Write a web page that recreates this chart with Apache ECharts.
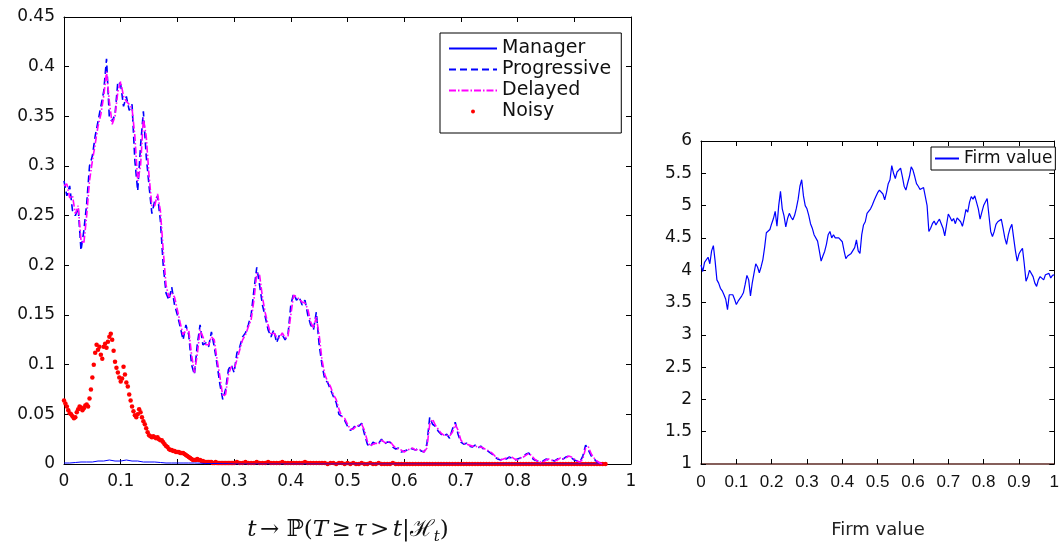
<!DOCTYPE html>
<html>
<head>
<meta charset="utf-8">
<script src="https://cdn.jsdelivr.net/npm/echarts@6/dist/echarts.min.js"></script>
<style>
  html, body { margin: 0; padding: 0; background: #fff; }
  #chart { width: 1062px; height: 551px; }
</style>
</head>
<body>
<div id="chart"></div>
<script>
// sampling steps along t
const T_STEP = 0.005;
const MANAGER_STEP = 0.01;
const NOISY_HEAD_STEP = 0.0025;
const NOISY_TAIL_START = 0.305;

// left panel: probabilities
const manager = [
  0.001,0.001,0.0015,0.002,0.002,0.002,0.003,0.003,0.004,0.003,
  0.003,0.004,0.003,0.003,0.002,0.002,0.002,0.0015,0.001,0.001,
  0.001,0.001,0.001,0.001,0.0008,0.0005,0.0005,0.0005,0.0003,0.0003,
  0,0,0,0,0,0,0,0,0,0,
  0,0,0,0,0,0,0,0,0,0,
  0,0,0,0,0,0,0,0,0,0,
  0,0,0,0,0,0,0,0,0,0,
  0,0,0,0,0,0,0,0,0,0,
  0,0,0,0,0,0,0,0,0,0,
  0,0,0,0,0,0
];

const progressive = [
  0.285,0.27,0.28,0.255,0.25,0.258,0.215,0.235,0.262,0.3,
  0.31,0.33,0.345,0.36,0.375,0.408,0.348,0.345,0.352,0.385,
  0.382,0.36,0.37,0.356,0.362,0.305,0.275,0.32,0.355,0.31,
  0.28,0.252,0.265,0.27,0.245,0.2,0.172,0.165,0.178,0.16,
  0.15,0.138,0.125,0.14,0.13,0.1,0.09,0.12,0.14,0.12,
  0.122,0.118,0.133,0.118,0.1,0.08,0.065,0.075,0.095,0.1,
  0.092,0.112,0.118,0.128,0.132,0.14,0.15,0.175,0.198,0.18,
  0.16,0.148,0.135,0.128,0.135,0.122,0.13,0.13,0.125,0.13,
  0.16,0.172,0.165,0.168,0.16,0.165,0.15,0.14,0.135,0.153,
  0.12,0.1,0.085,0.082,0.075,0.068,0.062,0.05,0.048,0.044,
  0.038,0.034,0.036,0.04,0.038,0.041,0.03,0.02,0.017,0.022,
  0.02,0.021,0.025,0.02,0.022,0.022,0.017,0.015,0.016,0.012,
  0.013,0.014,0.016,0.015,0.014,0.016,0.013,0.012,0.02,0.047,
  0.04,0.038,0.033,0.03,0.028,0.03,0.026,0.035,0.042,0.03,
  0.022,0.02,0.021,0.018,0.017,0.019,0.016,0.018,0.015,0.014,
  0.012,0.01,0.007,0.005,0.004,0.006,0.005,0.007,0.006,0.004,
  0.005,0.006,0.008,0.01,0.011,0.006,0.004,0.003,0.002,0.003,
  0.005,0.004,0.004,0.003,0.005,0.006,0.005,0.007,0.008,0.006,
  0.004,0.003,0.002,0.008,0.019,0.014,0.008,0.005,0.002,0.001,
  0.0
];

const delayed = [
  0.28,0.282,0.268,0.27,0.252,0.26,0.225,0.222,0.25,0.285,
  0.305,0.322,0.34,0.352,0.37,0.395,0.365,0.342,0.35,0.375,
  0.385,0.37,0.365,0.362,0.358,0.33,0.285,0.3,0.348,0.33,
  0.29,0.26,0.26,0.272,0.255,0.215,0.18,0.168,0.172,0.168,
  0.155,0.142,0.13,0.135,0.135,0.11,0.092,0.11,0.135,0.128,
  0.12,0.12,0.128,0.125,0.105,0.088,0.068,0.07,0.09,0.098,
  0.095,0.105,0.115,0.125,0.13,0.138,0.145,0.165,0.192,0.19,
  0.168,0.152,0.14,0.13,0.132,0.128,0.127,0.132,0.127,0.128,
  0.15,0.17,0.168,0.166,0.163,0.162,0.156,0.143,0.137,0.148,
  0.13,0.105,0.09,0.083,0.078,0.07,0.065,0.055,0.048,0.046,
  0.04,0.035,0.035,0.038,0.039,0.04,0.034,0.023,0.018,0.02,
  0.021,0.02,0.024,0.022,0.021,0.023,0.019,0.016,0.015,0.014,
  0.012,0.014,0.015,0.016,0.014,0.015,0.014,0.012,0.016,0.04,
  0.045,0.039,0.035,0.031,0.029,0.029,0.028,0.032,0.04,0.034,
  0.024,0.021,0.02,0.019,0.018,0.018,0.017,0.017,0.016,0.014,
  0.013,0.011,0.008,0.006,0.004,0.005,0.006,0.006,0.007,0.005,
  0.004,0.006,0.007,0.009,0.011,0.008,0.005,0.003,0.002,0.002,
  0.004,0.005,0.004,0.003,0.004,0.006,0.005,0.006,0.008,0.007,
  0.005,0.003,0.002,0.005,0.016,0.017,0.01,0.006,0.003,0.001,
  0.0
];

// noisy estimate: dense samples up to t = 0.3, then a flat tail to 0.95
const noisyHead = [
  0.064,0.061,0.058,0.054,0.051,0.05,0.048,0.046,0.047,0.052,
  0.055,0.058,0.057,0.054,0.056,0.059,0.06,0.058,0.066,0.075,
  0.087,0.1,0.112,0.12,0.115,0.118,0.11,0.106,0.118,0.121,
  0.117,0.123,0.128,0.131,0.125,0.114,0.103,0.097,0.092,0.087,
  0.083,0.086,0.098,0.09,0.082,0.078,0.07,0.064,0.058,0.053,
  0.049,0.047,0.05,0.055,0.052,0.047,0.043,0.04,0.036,0.032,
  0.029,0.028,0.027,0.028,0.027,0.026,0.027,0.025,0.024,0.024,
  0.022,0.02,0.018,0.017,0.015,0.014,0.014,0.013,0.013,0.012,
  0.012,0.012,0.011,0.011,0.011,0.01,0.009,0.008,0.007,0.006,
  0.005,0.004,0.004,0.004,0.005,0.004,0.004,0.003,0.003,0.002,
  0.002,0.002,0.002,0.002,0.002,0.001,0.001,0.002,0.001,0.001,
  0.001,0.001,0.001,0.001,0.001,0.001,0.001,0.001,0.001,0.001,
  0.001
];

const noisyTail = [
  0.002,0.001,0.001,0.002,0.001,0.001,0.001,0.002,0.001,
  0.001,0.001,0.002,0.001,0.001,0.001,0.001,0.002,0.001,0.001,
  0.001,0.001,0.001,0.001,0.001,0.002,0.001,0.001,0.001,0.001,
  0.001,0.001,0.001,0,0.001,0.001,0,0.001,0.001,0,
  0.001,0,0.001,0,0,0.001,0,0,0.001,0,
  0,0.001,0,0,0,0,0.001,0,0,0,
  0,0,0,0,0,0,0,0,0,0,
  0,0,0,0,0,0,0,0,0,0,
  0,0,0,0,0,0,0,0,0,0,
  0,0,0,0,0,0,0,0,0,0,
  0,0,0,0,0,0,0,0,0,0,
  0,0,0,0,0,0,0,0,0,0,
  0,0,0,0,0,0,0,0,0,0,
  0,0
];

// right panel: firm value path
const firmValue = [
  4.08,3.98,4.12,4.13,4.2,4.1,4.3,4.38,4.14,3.85,
  3.8,3.72,3.68,3.62,3.55,3.39,3.62,3.65,3.62,3.55,
  3.47,3.52,3.55,3.6,3.65,3.78,3.92,3.85,3.6,3.8,
  3.95,4.1,4.05,3.96,4.05,4.16,4.35,4.58,4.55,4.63,
  4.72,4.8,4.91,4.68,5.0,5.22,4.95,4.84,4.67,4.8,
  4.88,4.82,4.78,4.85,4.96,5.1,5.3,5.4,5.15,5.0,
  4.95,4.85,4.72,4.65,4.55,4.52,4.45,4.3,4.14,4.22,
  4.29,4.4,4.55,4.6,4.5,4.55,4.5,4.52,4.5,4.52,
  4.44,4.3,4.18,4.22,4.2,4.26,4.29,4.35,4.47,4.3,
  4.26,4.55,4.7,4.75,4.88,4.85,4.95,5.01,5.08,5.14,
  5.2,5.24,5.22,5.18,5.09,5.2,5.34,5.4,5.62,5.5,
  5.42,5.52,5.5,5.58,5.45,5.3,5.24,5.35,5.45,5.6,
  5.55,5.45,5.34,5.3,5.25,5.22,5.28,5.29,5.0,4.6,
  4.65,4.72,4.76,4.7,4.75,4.79,4.72,4.65,4.53,4.7,
  4.87,4.82,4.76,4.8,4.72,4.81,4.78,4.75,4.68,4.8,
  4.94,4.9,5.05,5.14,5.1,5.15,5.16,4.95,4.79,4.9,
  5.0,5.01,5.11,4.85,4.6,4.52,4.6,4.71,4.75,4.72,
  4.79,4.65,4.5,4.4,4.55,4.65,4.71,4.5,4.3,4.14,
  4.25,4.3,4.34,4.1,3.83,3.9,4.0,4.03,3.9,3.8,
  3.75,3.85,3.9,3.88,3.85,3.93,3.9,3.95,3.88,3.92,
  3.93
];

const SANS = 'DejaVu Sans';

function pairs(values, step, start) {
  const t0 = start || 0;
  return values.map((v, i) => [+(t0 + i * step).toFixed(4), v]);
}

const myChart = echarts.init(document.getElementById('chart'));

function frameAxis(gridIndex, position, opts) {
  const showLabel = position === 'bottom' || position === 'left';
  return Object.assign({
    gridIndex: gridIndex,
    type: 'value',
    position: position,
    axisLine: { show: true, onZero: false, lineStyle: { color: '#000', width: 1 } },
    axisTick: { show: true, inside: true, length: 5, lineStyle: { color: '#000' } },
    axisLabel: { show: showLabel, fontSize: 17, color: '#111', fontFamily: SANS, margin: 9 },
    splitLine: { show: false }
  }, opts);
}

// hide the marker dot that line legend icons get by default
const noDot = { opacity: 0 };

myChart.setOption({
  animation: false,
  backgroundColor: '#fff',
  grid: [
    { left: 64, top: 17, width: 567, height: 447 },
    { left: 701, top: 141, width: 355, height: 323 }
  ],
  xAxis: [
    frameAxis(0, 'bottom', { min: 0, max: 1, interval: 0.1 }),
    frameAxis(0, 'top', { min: 0, max: 1, interval: 0.1 }),
    frameAxis(1, 'bottom', {
      min: 0, max: 1, interval: 0.1,
      axisLine: { show: true, onZero: false, lineStyle: { color: '#5e2b26', width: 1.5 } },
      axisLabel: { show: true, fontSize: 17, color: '#111', fontFamily: 'Liberation Sans', margin: 10 }
    }),
    frameAxis(1, 'top', { min: 0, max: 1, interval: 0.1 })
  ],
  yAxis: [
    frameAxis(0, 'left', { min: 0, max: 0.45, interval: 0.05 }),
    frameAxis(0, 'right', { min: 0, max: 0.45, interval: 0.05 }),
    frameAxis(1, 'left', { min: 1, max: 6, interval: 0.5 }),
    frameAxis(1, 'right', { min: 1, max: 6, interval: 0.5 })
  ],
  legend: [
    {
      data: [
        { name: 'Manager', itemStyle: noDot },
        { name: 'Progressive', itemStyle: noDot },
        { name: 'Delayed', itemStyle: noDot },
        { name: 'Noisy' }
      ],
      orient: 'vertical',
      left: 440, top: 33,
      itemWidth: 48, itemHeight: 4, itemGap: 2,
      padding: [6, 10, 12, 8],
      backgroundColor: '#fff', borderColor: '#000', borderWidth: 1, borderRadius: 0,
      textStyle: { fontSize: 19, lineHeight: 18, color: '#111', fontFamily: SANS }
    },
    {
      data: [{ name: 'Firm value', itemStyle: noDot }],
      left: 931, top: 147,
      itemWidth: 24, itemHeight: 4,
      padding: [3, 3, 3, 3],
      backgroundColor: '#fff', borderColor: '#000', borderWidth: 1, borderRadius: 0,
      textStyle: { fontSize: 17, lineHeight: 17, color: '#111', fontFamily: SANS }
    }
  ],
  graphic: [
    {
      type: 'text', x: 348, y: 530,
      style: {
        text: '{i|t} {n|→ ℙ(}{i|T} {n|≥} {i|τ} {n|>} {i|t}{n||ℋ}{s|t}{n|)}',
        align: 'center', verticalAlign: 'middle',
        rich: {
          i: { fontFamily: 'DejaVu Serif', fontStyle: 'italic', fontSize: 23, lineHeight: 30, fill: '#111' },
          n: { fontFamily: 'DejaVu Serif', fontSize: 23, lineHeight: 30, fill: '#111' },
          s: { fontFamily: 'DejaVu Serif', fontStyle: 'italic', fontSize: 15, lineHeight: 16, verticalAlign: 'bottom', fill: '#111' }
        }
      }
    },
    {
      type: 'text', x: 878, y: 530,
      style: { text: 'Firm value', align: 'center', verticalAlign: 'middle', fontFamily: SANS, fontSize: 18, fill: '#222' }
    }
  ],
  series: [
    {
      name: 'Manager', type: 'line', xAxisIndex: 0, yAxisIndex: 0,
      data: pairs(manager, MANAGER_STEP), symbol: 'none',
      lineStyle: { color: '#0000ff', width: 1 }, itemStyle: { color: '#0000ff' }
    },
    {
      name: 'Progressive', type: 'line', xAxisIndex: 0, yAxisIndex: 0,
      data: pairs(progressive, T_STEP), symbol: 'none',
      lineStyle: { color: '#0000ff', width: 1.6, type: [7, 4] }, itemStyle: { color: '#0000ff' }
    },
    {
      name: 'Delayed', type: 'line', xAxisIndex: 0, yAxisIndex: 0,
      data: pairs(delayed, T_STEP), symbol: 'none',
      lineStyle: { color: '#ff00ff', width: 1.6, type: [7, 2, 1.5, 2] }, itemStyle: { color: '#ff00ff' }
    },
    {
      name: 'Noisy', type: 'scatter', xAxisIndex: 0, yAxisIndex: 0,
      data: pairs(noisyHead, NOISY_HEAD_STEP).concat(pairs(noisyTail, T_STEP, NOISY_TAIL_START)),
      symbol: 'circle', symbolSize: 4.5,
      itemStyle: { color: '#ff0000', opacity: 1 }
    },
    {
      name: 'Firm value', type: 'line', xAxisIndex: 2, yAxisIndex: 2,
      data: pairs(firmValue, T_STEP), symbol: 'none',
      lineStyle: { color: '#0000ff', width: 1.2 }, itemStyle: { color: '#0000ff' }
    }
  ]
});
</script>
</body>
</html>
